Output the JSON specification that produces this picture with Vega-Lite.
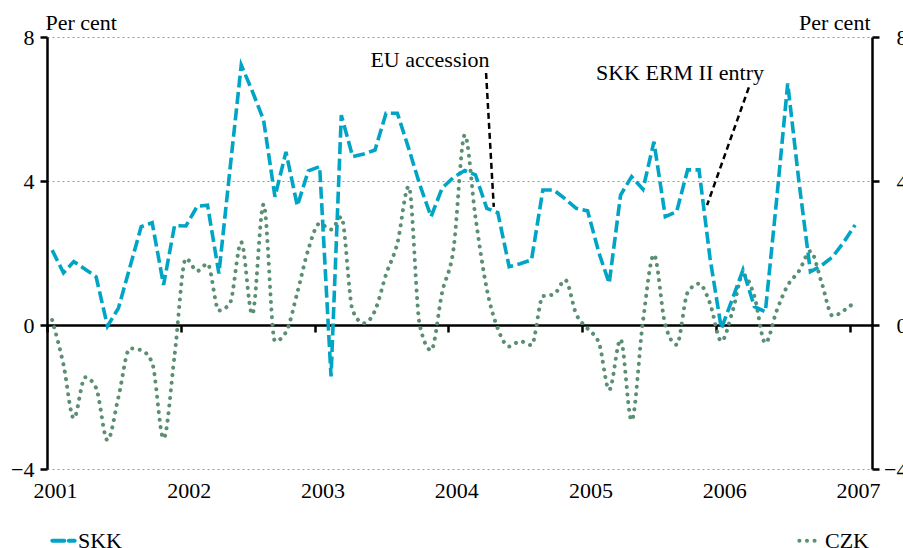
{
  "$schema": "https://vega.github.io/schema/vega-lite/v6.json",
  "autosize": "none",
  "width": 825,
  "height": 432,
  "padding": {"left": 47, "top": 37, "right": 31, "bottom": 79},
  "background": "white",
  "config": {"view": {"stroke": null}},
  "datasets": {
    "fx": [
      {"date":"2001-01-15","series":"SKK","value":2.08},{"date":"2001-02-15","series":"SKK","value":1.45},{"date":"2001-03-15","series":"SKK","value":1.76},{"date":"2001-04-15","series":"SKK","value":1.55},{"date":"2001-05-15","series":"SKK","value":1.34},{"date":"2001-06-15","series":"SKK","value":-0.03},{"date":"2001-07-15","series":"SKK","value":0.47},{"date":"2001-08-15","series":"SKK","value":1.6},{"date":"2001-09-15","series":"SKK","value":2.73},{"date":"2001-10-15","series":"SKK","value":2.84},{"date":"2001-11-15","series":"SKK","value":1.11},{"date":"2001-12-15","series":"SKK","value":2.76},
      {"date":"2002-01-15","series":"SKK","value":2.75},{"date":"2002-02-15","series":"SKK","value":3.3},{"date":"2002-03-15","series":"SKK","value":3.33},{"date":"2002-04-15","series":"SKK","value":1.43},{"date":"2002-05-15","series":"SKK","value":4.3},{"date":"2002-06-15","series":"SKK","value":7.22},{"date":"2002-07-15","series":"SKK","value":6.5},{"date":"2002-08-15","series":"SKK","value":5.69},{"date":"2002-09-15","series":"SKK","value":3.56},{"date":"2002-10-15","series":"SKK","value":4.81},{"date":"2002-11-15","series":"SKK","value":3.31},{"date":"2002-12-15","series":"SKK","value":4.28},
      {"date":"2003-01-15","series":"SKK","value":4.4},{"date":"2003-02-15","series":"SKK","value":-1.43},{"date":"2003-03-15","series":"SKK","value":5.83},{"date":"2003-04-15","series":"SKK","value":4.68},{"date":"2003-05-15","series":"SKK","value":4.75},{"date":"2003-06-15","series":"SKK","value":4.86},{"date":"2003-07-15","series":"SKK","value":5.88},{"date":"2003-08-15","series":"SKK","value":5.88},{"date":"2003-09-15","series":"SKK","value":4.9},{"date":"2003-10-15","series":"SKK","value":3.9},{"date":"2003-11-15","series":"SKK","value":3.01},{"date":"2003-12-15","series":"SKK","value":3.8},
      {"date":"2004-01-15","series":"SKK","value":4.1},{"date":"2004-02-15","series":"SKK","value":4.29},{"date":"2004-03-15","series":"SKK","value":4.17},{"date":"2004-04-15","series":"SKK","value":3.24},{"date":"2004-05-15","series":"SKK","value":3.12},{"date":"2004-06-15","series":"SKK","value":1.62},{"date":"2004-07-15","series":"SKK","value":1.7},{"date":"2004-08-15","series":"SKK","value":1.81},{"date":"2004-09-15","series":"SKK","value":3.75},{"date":"2004-10-15","series":"SKK","value":3.75},{"date":"2004-11-15","series":"SKK","value":3.5},{"date":"2004-12-15","series":"SKK","value":3.24},
      {"date":"2005-01-15","series":"SKK","value":3.17},{"date":"2005-02-15","series":"SKK","value":2.0},{"date":"2005-03-15","series":"SKK","value":1.16},{"date":"2005-04-15","series":"SKK","value":3.61},{"date":"2005-05-15","series":"SKK","value":4.12},{"date":"2005-06-15","series":"SKK","value":3.77},{"date":"2005-07-15","series":"SKK","value":5.09},{"date":"2005-08-15","series":"SKK","value":3.01},{"date":"2005-09-15","series":"SKK","value":3.15},{"date":"2005-10-15","series":"SKK","value":4.31},{"date":"2005-11-15","series":"SKK","value":4.31},{"date":"2005-12-15","series":"SKK","value":1.86},
      {"date":"2006-01-15","series":"SKK","value":-0.1},{"date":"2006-02-15","series":"SKK","value":0.75},{"date":"2006-03-15","series":"SKK","value":1.53},{"date":"2006-04-15","series":"SKK","value":0.51},{"date":"2006-05-15","series":"SKK","value":0.37},{"date":"2006-06-15","series":"SKK","value":3.5},{"date":"2006-07-15","series":"SKK","value":6.71},{"date":"2006-08-15","series":"SKK","value":3.95},{"date":"2006-09-15","series":"SKK","value":1.48},{"date":"2006-10-15","series":"SKK","value":1.65},{"date":"2006-11-15","series":"SKK","value":1.9},{"date":"2006-12-15","series":"SKK","value":2.3},
      {"date":"2007-01-15","series":"SKK","value":2.78},
      {"date":"2001-01-15","series":"CZK","value":0.14},{"date":"2001-02-15","series":"CZK","value":-1.1},{"date":"2001-03-15","series":"CZK","value":-2.59},{"date":"2001-04-15","series":"CZK","value":-1.45},{"date":"2001-05-15","series":"CZK","value":-1.75},{"date":"2001-06-15","series":"CZK","value":-3.2},{"date":"2001-07-15","series":"CZK","value":-2.0},{"date":"2001-08-15","series":"CZK","value":-0.65},{"date":"2001-09-15","series":"CZK","value":-0.7},{"date":"2001-10-15","series":"CZK","value":-1.05},{"date":"2001-11-15","series":"CZK","value":-3.15},{"date":"2001-12-15","series":"CZK","value":-0.85},
      {"date":"2002-01-15","series":"CZK","value":1.85},{"date":"2002-02-15","series":"CZK","value":1.5},{"date":"2002-03-15","series":"CZK","value":1.7},{"date":"2002-04-15","series":"CZK","value":0.4},{"date":"2002-05-15","series":"CZK","value":0.6},{"date":"2002-06-15","series":"CZK","value":2.3},{"date":"2002-07-15","series":"CZK","value":0.3},{"date":"2002-08-15","series":"CZK","value":3.35},{"date":"2002-09-15","series":"CZK","value":-0.45},{"date":"2002-10-15","series":"CZK","value":-0.2},{"date":"2002-11-15","series":"CZK","value":0.9},{"date":"2002-12-15","series":"CZK","value":2.1},
      {"date":"2003-01-15","series":"CZK","value":2.82},{"date":"2003-02-15","series":"CZK","value":2.65},{"date":"2003-03-15","series":"CZK","value":3.0},{"date":"2003-04-15","series":"CZK","value":0.4},{"date":"2003-05-15","series":"CZK","value":0.05},{"date":"2003-06-15","series":"CZK","value":0.4},{"date":"2003-07-15","series":"CZK","value":1.4},{"date":"2003-08-15","series":"CZK","value":2.27},{"date":"2003-09-15","series":"CZK","value":3.85},{"date":"2003-10-15","series":"CZK","value":0.0},{"date":"2003-11-15","series":"CZK","value":-0.7},{"date":"2003-12-15","series":"CZK","value":0.9},
      {"date":"2004-01-15","series":"CZK","value":2.1},{"date":"2004-02-15","series":"CZK","value":5.28},{"date":"2004-03-15","series":"CZK","value":3.0},{"date":"2004-04-15","series":"CZK","value":1.0},{"date":"2004-05-15","series":"CZK","value":-0.1},{"date":"2004-06-15","series":"CZK","value":-0.6},{"date":"2004-07-15","series":"CZK","value":-0.45},{"date":"2004-08-15","series":"CZK","value":-0.56},{"date":"2004-09-15","series":"CZK","value":0.8},{"date":"2004-10-15","series":"CZK","value":0.85},{"date":"2004-11-15","series":"CZK","value":1.25},{"date":"2004-12-15","series":"CZK","value":0.3},
      {"date":"2005-01-15","series":"CZK","value":-0.1},{"date":"2005-02-15","series":"CZK","value":-0.5},{"date":"2005-03-15","series":"CZK","value":-1.8},{"date":"2005-04-15","series":"CZK","value":-0.4},{"date":"2005-05-15","series":"CZK","value":-2.65},{"date":"2005-06-15","series":"CZK","value":0.1},{"date":"2005-07-15","series":"CZK","value":1.95},{"date":"2005-08-15","series":"CZK","value":0.0},{"date":"2005-09-15","series":"CZK","value":-0.55},{"date":"2005-10-15","series":"CZK","value":0.9},{"date":"2005-11-15","series":"CZK","value":1.15},{"date":"2005-12-15","series":"CZK","value":0.6},
      {"date":"2006-01-15","series":"CZK","value":-0.45},{"date":"2006-02-15","series":"CZK","value":0.4},{"date":"2006-03-15","series":"CZK","value":1.4},{"date":"2006-04-15","series":"CZK","value":0.8},{"date":"2006-05-15","series":"CZK","value":-0.5},{"date":"2006-06-15","series":"CZK","value":0.4},{"date":"2006-07-15","series":"CZK","value":1.1},{"date":"2006-08-15","series":"CZK","value":1.5},{"date":"2006-09-15","series":"CZK","value":2.05},{"date":"2006-10-15","series":"CZK","value":1.2},{"date":"2006-11-15","series":"CZK","value":0.25},{"date":"2006-12-15","series":"CZK","value":0.4},
      {"date":"2007-01-15","series":"CZK","value":0.65}
    ],
    "arrows": [
      {"x":"2004-04-13","y":7.0,"x2":"2004-05-04","y2":3.28},
      {"x":"2006-03-31","y":6.6,"x2":"2005-12-07","y2":3.33}
    ],
    "labels": [
      {"label":"EU accession","date":"2003-11-12","value":7.175},
      {"label":"SKK ERM II entry","date":"2005-09-24","value":6.81}
    ]
  },
  "layer": [
    {
      "data": {"name": "fx"},
      "transform": [{"filter": "datum.series === 'CZK'"}],
      "mark": {"type": "line", "strokeWidth": 4, "strokeCap": "round", "interpolate": "monotone"},
      "encoding": {
        "x": {"field": "date", "type": "temporal", "scale": {"type": "utc", "domain": [{"year": 2001, "month": 1, "date": 1, "utc": true}, {"year": 2007, "month": 3, "date": 2, "utc": true}]}, "axis": null},
        "y": {"field": "value", "type": "quantitative", "scale": {"domain": [-4, 8], "nice": false},
          "axis": {"orient": "right", "values": [-4, 0, 4, 8], "format": "d", "domainColor": "black", "domainWidth": 2.5, "tickColor": "black", "tickWidth": 2.5, "tickSize": 7, "labelFont": "Liberation Serif", "labelFontSize": 22, "labelColor": "black", "labelAlign": "right", "labelPadding": 28, "grid": false, "title": "Per cent", "titleAngle": 0, "titleAlign": "right", "titleBaseline": "alphabetic", "titleX": -2, "titleY": -8, "titleFont": "Liberation Serif", "titleFontSize": 22, "titleFontWeight": "normal", "titleColor": "black"}},
        "color": {"field": "series", "type": "nominal", "scale": {"domain": ["SKK", "CZK"], "range": ["#00A5C6", "#5B8F74"]},
          "legend": {"title": null, "orient": "none", "legendX": 3, "legendY": 490, "direction": "horizontal", "columns": 2, "columnPadding": 668, "symbolType": "stroke", "symbolSize": 500, "symbolStrokeWidth": 4, "labelFont": "Liberation Serif", "labelFontSize": 22, "labelColor": "black", "labelOffset": 1, "padding": 0, "encode": {"symbols": {"update": {"strokeCap": {"value": "round"}}}}}},
        "strokeDash": {"field": "series", "type": "nominal", "scale": {"domain": ["SKK", "CZK"], "range": [[12, 4.5], [0.1, 7.5]]},
          "legend": {"title": null, "orient": "none", "legendX": 3, "legendY": 490, "direction": "horizontal", "columns": 2, "columnPadding": 668, "symbolType": "stroke", "symbolSize": 500, "symbolStrokeWidth": 4, "labelFont": "Liberation Serif", "labelFontSize": 22, "labelColor": "black", "labelOffset": 1, "padding": 0, "encode": {"symbols": {"update": {"strokeCap": {"value": "round"}}}}}}
      }
    },
    {
      "data": {"name": "fx"},
      "transform": [{"filter": "datum.series === 'SKK'"}],
      "mark": {"type": "line", "strokeWidth": 3.6, "strokeCap": "butt"},
      "encoding": {
        "x": {"field": "date", "type": "temporal", "scale": {"type": "utc", "domain": [{"year": 2001, "month": 1, "date": 1, "utc": true}, {"year": 2007, "month": 3, "date": 2, "utc": true}]},
          "axis": {"orient": "bottom", "offset": -144, "values": [{"year": 2001, "utc": true}, {"year": 2002, "utc": true}, {"year": 2003, "utc": true}, {"year": 2004, "utc": true}, {"year": 2005, "utc": true}, {"year": 2006, "utc": true}, {"year": 2007, "utc": true}], "format": "%Y", "domainColor": "black", "domainWidth": 2.5, "tickColor": "black", "tickWidth": 2.5, "tickSize": 7, "labelFont": "Liberation Serif", "labelFontSize": 22, "labelColor": "black", "labelPadding": 148, "labelOffset": 8, "labelFlush": false, "labelOverlap": false, "grid": false, "title": null}},
        "y": {"field": "value", "type": "quantitative", "scale": {"domain": [-4, 8], "nice": false},
          "axis": {"orient": "left", "values": [-4, 0, 4, 8], "format": "d", "domainColor": "black", "domainWidth": 2.5, "tickColor": "black", "tickWidth": 2.5, "tickSize": 7, "labelFont": "Liberation Serif", "labelFontSize": 22, "labelColor": "black", "labelPadding": 6, "grid": true, "gridColor": "#9a9a9a", "gridDash": [2, 3], "gridWidth": 1, "title": "Per cent", "titleAngle": 0, "titleAlign": "left", "titleBaseline": "alphabetic", "titleX": -2, "titleY": -8, "titleFont": "Liberation Serif", "titleFontSize": 22, "titleFontWeight": "normal", "titleColor": "black"}},
        "color": {"field": "series", "type": "nominal"},
        "strokeDash": {"field": "series", "type": "nominal"}
      }
    },
    {
      "data": {"name": "arrows"},
      "mark": {"type": "rule", "color": "black", "strokeWidth": 2.5, "strokeDash": [6, 4]},
      "encoding": {
        "x": {"field": "x", "type": "temporal", "axis": null},
        "x2": {"field": "x2"},
        "y": {"field": "y", "type": "quantitative", "axis": null},
        "y2": {"field": "y2"}
      }
    },
    {
      "data": {"name": "labels"},
      "mark": {"type": "text", "font": "Liberation Serif", "fontSize": 22, "color": "black", "align": "center", "baseline": "alphabetic"},
      "encoding": {
        "x": {"field": "date", "type": "temporal", "axis": null},
        "y": {"field": "value", "type": "quantitative", "axis": null},
        "text": {"field": "label"}
      }
    }
  ],
  "resolve": {"axis": {"x": "independent", "y": "independent"}}
}
